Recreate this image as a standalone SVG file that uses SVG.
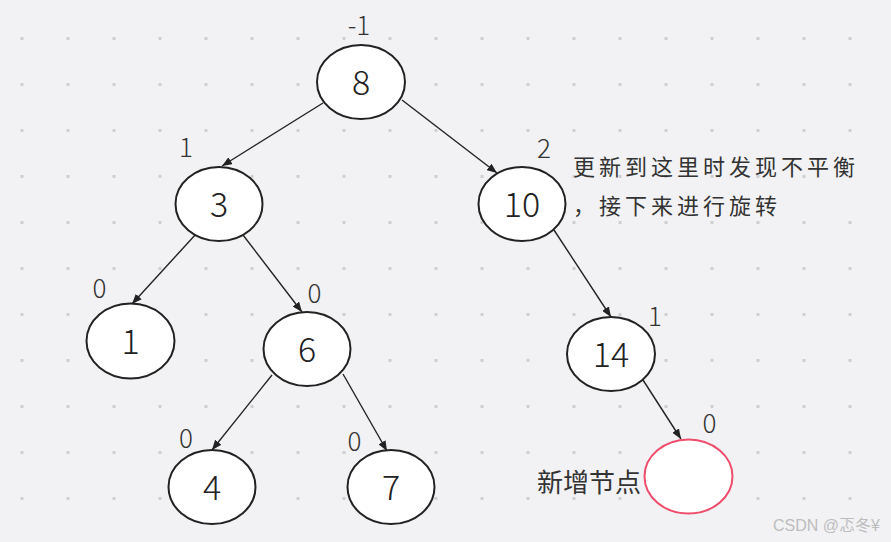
<svg xmlns="http://www.w3.org/2000/svg" width="891" height="542" viewBox="0 0 891 542">
  <defs>
    <pattern id="grid" x="0" y="0" width="46" height="46" patternUnits="userSpaceOnUse">
      <rect x="20.5" y="37" width="3" height="3" fill="#cfcfd2"/>
    </pattern>
    <marker id="arrow" viewBox="0 0 10 8" refX="10" refY="4" markerWidth="10" markerHeight="8" markerUnits="userSpaceOnUse" orient="auto">
      <path d="M0,0 L10,4 L0,8 Z" fill="#222"/>
    </marker>
  </defs>
  <style>
    .node ellipse { fill: #ffffff; stroke: #222222; stroke-width: 2; }
    .node.new ellipse { stroke: #ee4d6c; }
    .val { font-family: "Noto Sans CJK SC", "Noto Sans", sans-serif; font-size: 34px; font-weight: 300; fill: #222222; text-anchor: middle; }
    .bf { font-family: "Noto Sans CJK SC", "Noto Sans", sans-serif; font-size: 26px; font-weight: 300; fill: #333333; text-anchor: middle; }
    .note { font-family: "Noto Sans CJK SC", sans-serif; font-size: 22px; letter-spacing: 4px; fill: #333333; }
    .note2 { font-family: "Noto Sans CJK SC", sans-serif; font-size: 26px; fill: #333333; }
    .wm { font-family: "Liberation Sans", "Noto Sans CJK SC", sans-serif; font-size: 16px; fill: #bdbdbd; }
    #connectors line { stroke: #222222; stroke-width: 1.4; marker-end: url(#arrow); }
  </style>
  <rect width="891" height="542" fill="#f2f2f4"/>
  <rect width="891" height="542" fill="url(#grid)"/>

  <g id="connectors">
    <line x1="323" y1="103" x2="222" y2="166"/>
    <line x1="402" y1="100" x2="497" y2="173"/>
    <line x1="196" y1="234" x2="132" y2="304"/>
    <line x1="243" y1="235" x2="302" y2="312"/>
    <line x1="272" y1="375" x2="212" y2="450"/>
    <line x1="343" y1="374" x2="387" y2="451"/>
    <line x1="554" y1="230" x2="611" y2="317"/>
    <line x1="643" y1="380" x2="681" y2="439"/>
  </g>

  <g id="node-8" class="node"><ellipse cx="361" cy="82" rx="44" ry="37"/><text class="val" x="361" y="94.5">8</text></g>
  <g id="node-3" class="node"><ellipse cx="219" cy="204" rx="43.5" ry="37"/><text class="val" x="219" y="216.5">3</text></g>
  <g id="node-10" class="node"><ellipse cx="522" cy="204" rx="43.5" ry="37"/><text class="val" x="522" y="216.5">10</text></g>
  <g id="node-1" class="node"><ellipse cx="130.5" cy="341" rx="44" ry="37.5"/><text class="val" x="130.5" y="353.5">1</text></g>
  <g id="node-6" class="node"><ellipse cx="307" cy="349" rx="43.5" ry="37"/><text class="val" x="307" y="361.5">6</text></g>
  <g id="node-14" class="node"><ellipse cx="611" cy="354" rx="44" ry="37"/><text class="val" x="611" y="366.5">14</text></g>
  <g id="node-4" class="node"><ellipse cx="212" cy="487" rx="43.5" ry="37"/><text class="val" x="212" y="499.5">4</text></g>
  <g id="node-7" class="node"><ellipse cx="391" cy="487" rx="43.5" ry="37"/><text class="val" x="391" y="499.5">7</text></g>
  <g id="node-new" class="node new"><ellipse cx="688.5" cy="476.5" rx="44" ry="37"/></g>

  <g id="balance-factors">
    <text class="bf" x="359" y="35">-1</text>
    <text class="bf" x="186" y="157">1</text>
    <text class="bf" x="544" y="158">2</text>
    <text class="bf" x="99.5" y="298">0</text>
    <text class="bf" x="314.5" y="303">0</text>
    <text class="bf" x="655" y="326">1</text>
    <text class="bf" x="186" y="448">0</text>
    <text class="bf" x="354.5" y="451">0</text>
    <text class="bf" x="709.5" y="433">0</text>
  </g>

  <g id="notes">
    <text class="note" x="573" y="175">更新到这里时发现不平衡</text>
    <text class="note" x="573" y="214">，接下来进行旋转</text>
    <text class="note2" x="537" y="492">新增节点</text>
  </g>
  <text class="wm" x="773" y="531">CSDN @忑冬¥</text>
</svg>
